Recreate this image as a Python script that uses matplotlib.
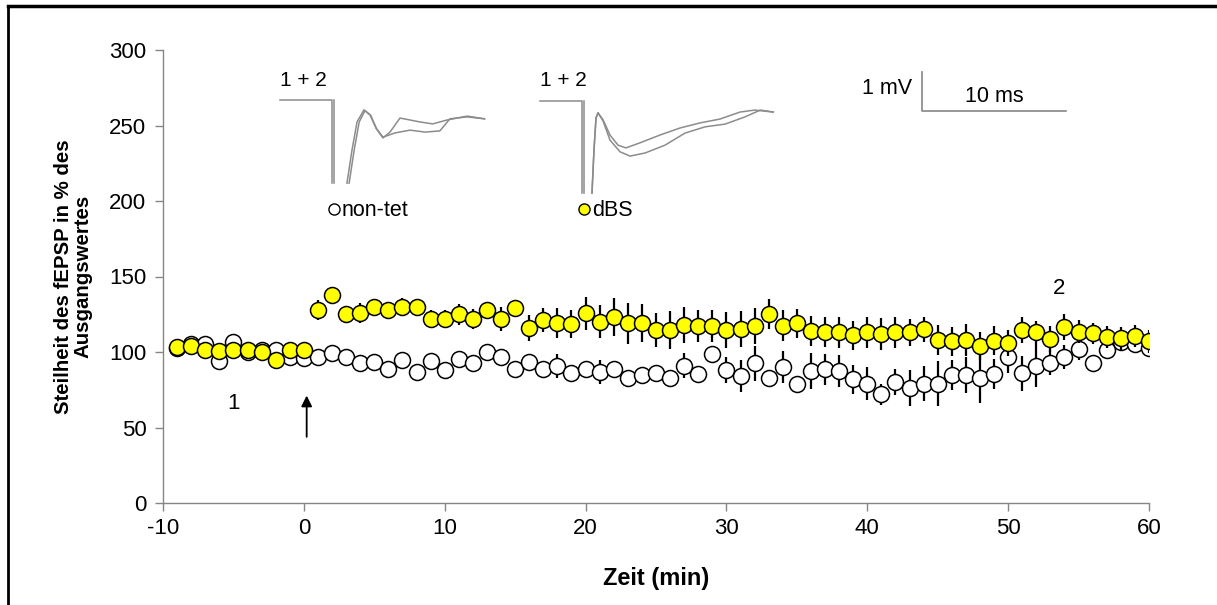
import numpy as np
import matplotlib
matplotlib.use("Agg")
import matplotlib.pyplot as plt
from matplotlib.lines import Line2D

plt.rcParams['font.family'] = ['Liberation Sans', 'DejaVu Sans']
plt.rcParams['axes.unicode_minus'] = False

# Zeitachse (min)
zeit = np.arange(-9, 61)

# non-tet (weisse Kreise): Mittelwert und SEM
nontet = [102.5, 105.5, 105, 94, 106.5, 100, 101.5, 101, 96.5, 96,
          97, 99.5, 96.5, 93, 93.5, 88.5, 95, 86.5, 94, 88,
          95.5, 92.5, 100, 97, 88.5, 93.5, 89, 91, 86, 88.5,
          87, 88.5, 82.5, 85, 86, 83, 91, 85.5, 98.5, 88,
          84, 92.5, 82.5, 90, 78.5, 87.5, 88.5, 87.5, 82, 79,
          72, 80, 76, 79, 79, 85, 85, 82.5, 85.5, 97,
          86, 91, 93, 96.5, 102, 93, 101, 106.5, 105, 102.5]
nontet_sem = [2, 2, 2, 2, 2, 2, 2, 2, 2, 2,
              2, 2, 2, 2, 2, 2, 3, 2, 3, 2,
              3, 3, 3, 3, 3, 3, 3, 8, 3, 5,
              8, 3, 3, 3, 3, 3, 8.5, 3, 3, 8.5,
              10.5, 11.5, 4, 10.5, 3, 12, 10.5, 10.5, 9.5, 11,
              7, 8.5, 12, 11.5, 15, 10, 12, 16, 10, 11,
              11.5, 14, 8.5, 8, 7, 4, 5.5, 5.5, 5, 4]

# dBS (gelbe Kreise): Mittelwert und SEM
dbs = [103.5, 104, 101, 100.5, 101, 101, 100, 95, 101.5, 101.5,
       128, 137.5, 125, 126, 130, 127.5, 130, 129.5, 122, 122,
       125, 122, 127.5, 122, 129, 116, 121, 119, 118.5, 125.5,
       120, 123, 119, 119, 114.5, 114.5, 118, 117, 117, 114.5,
       115, 117, 125, 117.5, 119, 114, 113, 113, 111, 113,
       112, 113, 113, 115, 108, 107, 108, 104, 107.5, 106,
       114.5, 113, 108.5, 116.5, 113.5, 112.5, 110, 109, 110.5, 107]
dbs_sem = [2, 2, 2, 2, 2, 2, 2, 2, 2, 2,
           6.5, 5.5, 5.5, 6.5, 5, 4.5, 6, 5, 5.5, 6,
           7, 6.5, 5.5, 8, 5, 8.5, 8, 10, 9, 11,
           11, 12.5, 13.5, 12.5, 11, 12.5, 12, 10.5, 10.5, 12,
           12, 12, 10, 10.5, 9.5, 10, 10, 10.5, 9.5, 10.5,
           10.5, 10.5, 9, 8.5, 10, 9.5, 10.5, 9, 9.5, 8.5,
           8.5, 7.5, 8.5, 8.5, 7.5, 7, 7.5, 7.5, 7.5, 7.5]

x_ticks = [-10, 0, 10, 20, 30, 40, 50, 60]
y_ticks = [0, 50, 100, 150, 200, 250, 300]

# Beispielspuren (ms, mV) - non-tet
nt_base_t = [0, 3.6, 3.6]
nt_base_v = [0, 0, -2.12]
nt_a_t = [4.65, 5.0, 5.35, 5.83, 6.25, 6.67, 7.15, 7.64, 8.33, 9.03, 9.72, 10.6, 11.6, 13.0, 14.2]
nt_a_v = [-2.12, -1.27, -0.55, -0.24, -0.37, -0.71, -0.96, -0.81, -0.45, -0.5, -0.55, -0.6, -0.5, -0.4, -0.47]
nt_b_t = [4.8, 5.15, 5.5, 5.9, 6.3, 6.7, 7.15, 8.0, 9.03, 10.07, 11.1, 11.8, 13.0, 14.2]
nt_b_v = [-2.12, -1.27, -0.55, -0.26, -0.38, -0.72, -0.94, -0.83, -0.76, -0.81, -0.78, -0.47, -0.42, -0.47]
# Beispielspuren (ms, mV) - dBS
db_base_t = [0, 2.92, 2.92]
db_base_v = [0, 0, -2.35]
db_a_t = [3.61, 3.75, 3.89, 4.03, 4.38, 4.86, 5.42, 5.97, 6.94, 8.33, 9.72, 11.1, 12.5, 13.9, 14.9, 16.2]
db_a_v = [-2.35, -1.24, -0.42, -0.29, -0.47, -0.86, -1.12, -1.19, -1.06, -0.86, -0.68, -0.55, -0.45, -0.27, -0.22, -0.27]
db_b_t = [3.61, 3.75, 3.89, 4.03, 4.38, 4.86, 5.56, 6.25, 7.3, 8.68, 10.07, 11.46, 12.85, 14.2, 15.3, 16.2]
db_b_v = [-2.35, -1.24, -0.42, -0.29, -0.5, -0.99, -1.29, -1.4, -1.32, -1.12, -0.81, -0.65, -0.58, -0.4, -0.22, -0.27]

W, H = 1217, 605
PX_MS = 14.4   # Pixel pro ms
PX_MV = 39.0   # Pixel pro mV
GRAU = '#868686'


def trace_axes(fig, x0, y0, t_lo, t_hi, v_lo, v_hi):
    left = (x0 + t_lo * PX_MS) / W
    width = (t_hi - t_lo) * PX_MS / W
    bottom = (H - (y0 - v_lo * PX_MV)) / H
    height = (v_hi - v_lo) * PX_MV / H
    a = fig.add_axes([left, bottom, width, height])
    a.set_xlim(t_lo, t_hi)
    a.set_ylim(v_lo, v_hi)
    a.axis('off')
    return a


fig = plt.figure(figsize=(W / 100, H / 100), dpi=100)
ax = fig.add_axes([163 / W, 102 / H, 986 / W, 453 / H])

ax.errorbar(zeit, nontet, yerr=nontet_sem, fmt='none', ecolor='black', elinewidth=1.6, capsize=0, zorder=2)
ax.plot(zeit, nontet, 'o', ms=11.5, mfc='white', mec='black', mew=1.1, zorder=3)
ax.errorbar(zeit, dbs, yerr=dbs_sem, fmt='none', ecolor='black', elinewidth=1.6, capsize=0, zorder=4)
ax.plot(zeit, dbs, 'o', ms=11.5, mfc='#ffff00', mec='black', mew=1.1, zorder=5)

ax.set_xlim(-10, 60)
ax.set_ylim(0, 300)
ax.set_xticks(x_ticks)
ax.set_yticks(y_ticks)
for s in ['top', 'right']:
    ax.spines[s].set_visible(False)
for s in ['left', 'bottom']:
    ax.spines[s].set_color(GRAU)
    ax.spines[s].set_linewidth(1.0)
ax.tick_params(axis='both', direction='out', length=6, width=1, color=GRAU, labelsize=16)
ax.tick_params(axis='y', pad=6)
ax.tick_params(axis='x', pad=5)
ax.set_xlabel('Zeit (min)', fontsize=17, fontweight='bold', labelpad=20)
ax.set_ylabel('Steilheit des fEPSP in % des\nAusgangswertes', fontsize=14.7, fontweight='bold',
              labelpad=12, linespacing=1.0)

# Pfeil (Reizung) und Markierungen 1 / 2
ax.annotate('', xy=(0.2, 73), xytext=(0.2, 42),
            arrowprops=dict(arrowstyle='-|>', color='black', lw=1.3, mutation_scale=16))
ax.text(-5, 66, '1', fontsize=16, ha='center', va='center')
ax.text(53.6, 142, '2', fontsize=16, ha='center', va='center')

# Legenden
h_nt = Line2D([], [], ls='none', marker='o', ms=8, mfc='white', mec='black', mew=1.0)
h_db = Line2D([], [], ls='none', marker='o', ms=8, mfc='#ffff00', mec='black', mew=1.0)
leg1 = ax.legend([h_nt], ['non-tet'], loc='center left', bbox_to_anchor=(0.168, 0.645),
                 frameon=False, handlelength=0.5, handletextpad=0.12, borderpad=0,
                 borderaxespad=0, fontsize=15.5)
ax.add_artist(leg1)
ax.legend([h_db], ['dBS'], loc='center left', bbox_to_anchor=(0.422, 0.645),
          frameon=False, handlelength=0.5, handletextpad=0.12, borderpad=0,
          borderaxespad=0, fontsize=15.5)

# Spuren
t1 = trace_axes(fig, 280, 100.5, -0.2, 15.0, -2.3, 0.3)
for tt, vv in [(nt_base_t, nt_base_v), ([3.75, 3.75], [0, -2.12]), (nt_a_t, nt_a_v), (nt_b_t, nt_b_v)]:
    t1.plot(tt, vv, color='#8c8c8c', lw=1.1)
t1.text(0, 0.5, '1 + 2', fontsize=15, ha='left', va='center')

t2 = trace_axes(fig, 540, 101.5, -0.2, 16.6, -2.5, 0.3)
for tt, vv in [(db_base_t, db_base_v), ([3.05, 3.05], [0, -2.35]), (db_a_t, db_a_v), (db_b_t, db_b_v)]:
    t2.plot(tt, vv, color='#8c8c8c', lw=1.1)
t2.text(0, 0.55, '1 + 2', fontsize=15, ha='left', va='center')

# Skalenbalken
sb = trace_axes(fig, 922, 111, -0.3, 10.3, -0.2, 1.2)
sb.plot([0, 0, 10], [1, 0, 0], color=GRAU, lw=1.2)
sb.text(-0.7, 0.58, '1 mV', fontsize=15.5, ha='right', va='center')
sb.text(5, 0.38, '10 ms', fontsize=15.5, ha='center', va='center')

# Rahmen
fig.add_artist(Line2D([8 / W, 8 / W], [0, 1 - 6 / H], color='black', lw=2))
fig.add_artist(Line2D([8 / W, 1], [1 - 6 / H, 1 - 6 / H], color='black', lw=2.5))

fig.savefig('out.png', dpi=100)
